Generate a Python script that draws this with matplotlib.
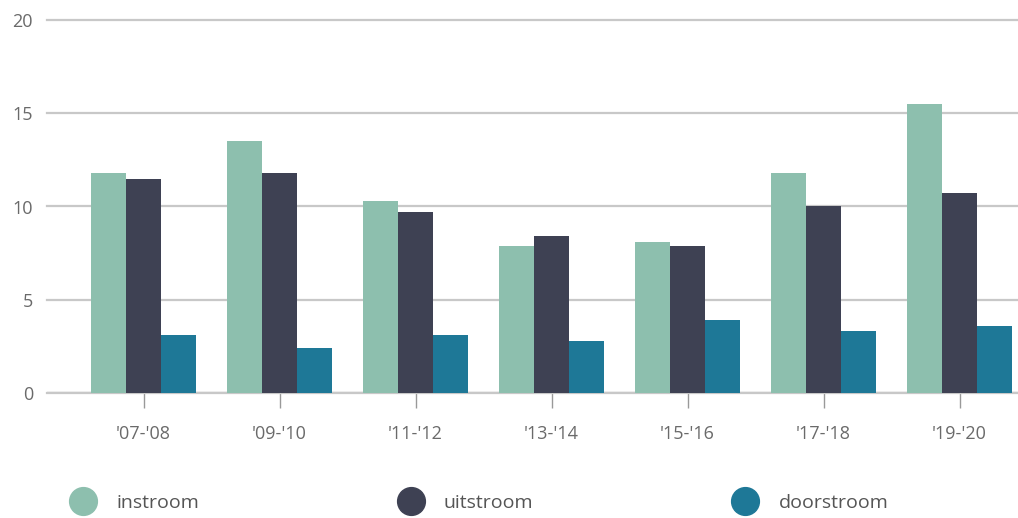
import numpy as np
import matplotlib.pyplot as plt
from matplotlib.lines import Line2D

plt.rcParams['font.family'] = ['Open Sans', 'DejaVu Sans']

years = ["'07-'08", "'09-'10", "'11-'12", "'13-'14", "'15-'16", "'17-'18", "'19-'20"]
instroom = [11.8, 13.5, 10.3, 7.9, 8.1, 11.8, 15.5]
uitstroom = [11.5, 11.8, 9.7, 8.4, 7.9, 10.0, 10.7]
doorstroom = [3.1, 2.4, 3.1, 2.8, 3.9, 3.3, 3.6]

series = [("instroom", instroom, "#8dbfae"),
          ("uitstroom", uitstroom, "#3e4153"),
          ("doorstroom", doorstroom, "#1e7897")]

fig = plt.figure(figsize=(10.18, 5.18), dpi=100)
ax = fig.add_axes([47 / 1018, 125 / 518, 1 - 47 / 1018, 373 / 518])

x = np.arange(len(years))
w = 0.257
for i, (name, vals, col) in enumerate(series):
    ax.bar(x + (i - 1) * w, vals, width=w, color=col, label=name, zorder=2)

ax.set_ylim(0, 20)
ax.set_xlim(-0.71, 6.43)
ax.set_yticks([0, 5, 10, 15, 20])
ax.yaxis.grid(True, color="#c8c8c8", linewidth=1.6, zorder=0)
ax.set_axisbelow(True)
for g in ax.get_ygridlines():
    g.set_clip_on(False)
ax.axhline(0, color="#c8c8c8", linewidth=2.5, zorder=1)

for s in ax.spines.values():
    s.set_visible(False)

ax.set_xticks(x)
ax.set_xticklabels(years, fontsize=13, color="#6a6a6a")
ax.tick_params(axis="x", length=11, width=1, color="#999999", pad=12)
ax.tick_params(axis="y", length=0, pad=10, labelsize=13, labelcolor="#6a6a6a")

handles = [Line2D([], [], marker="o", linestyle="", markersize=20, color=c, label=n)
           for n, _, c in series]
fig.legend(handles=handles, loc="center left", bbox_to_anchor=(46 / 1018, 15 / 518),
           ncol=3, frameon=False, fontsize=14, labelcolor="#555555",
           columnspacing=9.9, handletextpad=0.7)

fig.savefig("out.png", dpi=100)
